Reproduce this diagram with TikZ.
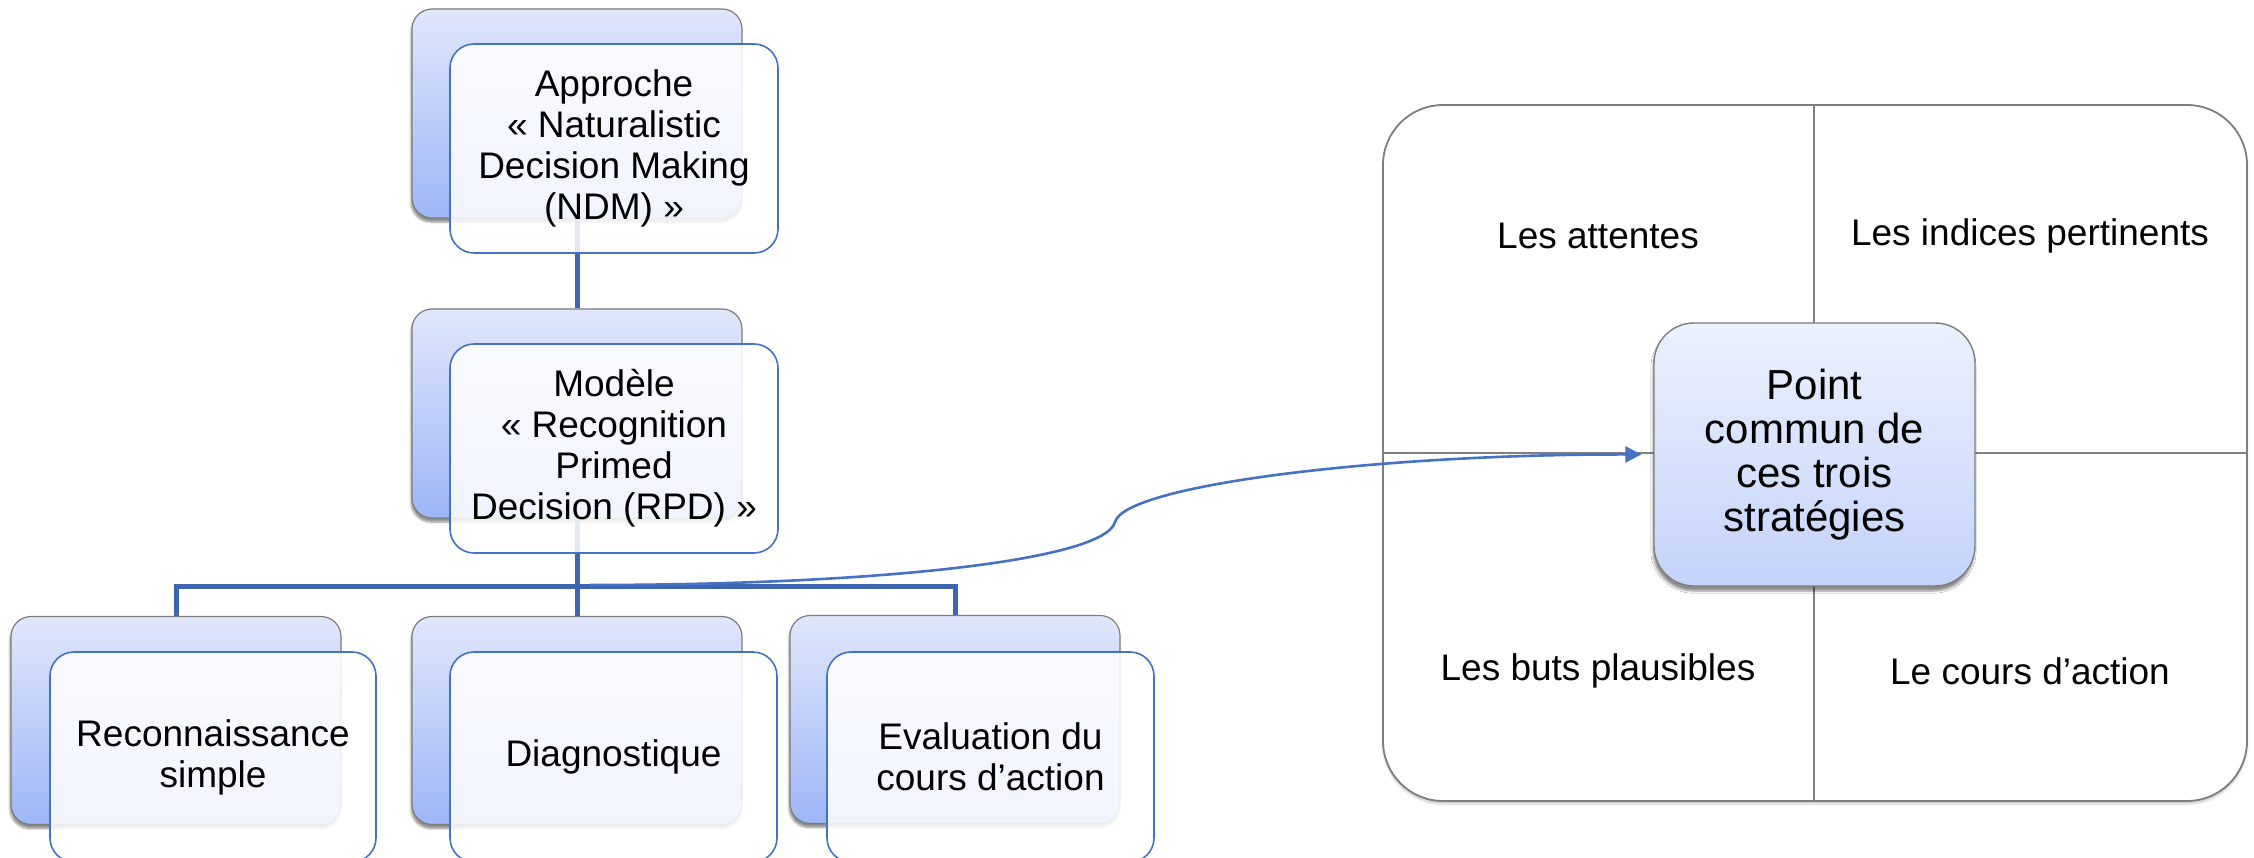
\documentclass[tikz,border=0pt]{standalone}
\usepackage{fontspec}
\setmainfont{Liberation Sans}
\usetikzlibrary{arrows.meta,shadows.blur}
\definecolor{conn}{RGB}{63,100,176}
\definecolor{frontbd}{RGB}{68,114,196}
\definecolor{backtop}{RGB}{224,231,252}
\definecolor{backbot}{RGB}{158,182,247}
\definecolor{grayb}{RGB}{125,125,125}
\definecolor{cptop}{RGB}{236,241,254}
\definecolor{cpbot}{RGB}{196,211,251}
\definecolor{divc}{RGB}{128,128,128}
\begin{document}
\begin{tikzpicture}[x=1pt,y=-1pt,
  backbox/.style={draw=grayb, line width=1.2pt, rounded corners=20pt,
    top color=backtop, bottom color=backbot, minimum width=330pt,
    minimum height=209pt, inner sep=0pt,
    blur shadow={shadow xshift=-1pt, shadow yshift=-4pt, shadow blur steps=6, shadow opacity=45}},
  frontbox/.style={draw=frontbd, line width=1.6pt, rounded corners=24pt,
    fill=white, fill opacity=0.86, text opacity=1, draw opacity=1,
    minimum width=328pt, minimum height=209pt, inner sep=0pt, align=center,
    font=\fontsize{37}{41}\selectfont},
  connline/.style={draw=conn, line width=5pt},
  panelbox/.style={draw=grayb, line width=1.8pt, fill=white, rounded corners=60pt,
    minimum width=864pt, minimum height=696pt, inner sep=0pt,
    blur shadow={shadow xshift=0pt, shadow yshift=-3pt, shadow blur steps=5, shadow opacity=20}},
  divline/.style={draw=divc, line width=1.6pt},
  centerbox/.style={draw=grayb, line width=1.4pt, rounded corners=40pt,
    top color=cptop, bottom color=cpbot, minimum width=321pt, minimum height=263pt,
    inner sep=0pt, align=center, font=\fontsize{42}{44}\selectfont,
    blur shadow={shadow xshift=-1pt, shadow yshift=-5pt, shadow blur steps=6, shadow opacity=45}},
  quadlabel/.style={inner sep=0pt, font=\fontsize{37}{41}\selectfont},
  arrowline/.style={draw=frontbd, line width=2.6pt, -{Triangle[length=16pt,width=16pt]}}
]
\useasboundingbox (0,0) rectangle (2254,858);

% back boxes
\node[backbox] (ndmB) at (577,113.5) {};
\node[backbox] (rpdB) at (577,413.5) {};
\node[backbox, minimum height=208pt] (recB) at (176,720.5) {};
\node[backbox, minimum height=208pt] (diaB) at (577,720.5) {};
\node[backbox, minimum height=208pt] (evaB) at (955,719.5) {};

% connectors
\coordinate (barL) at (176,586);
\coordinate (barM) at (577,586);
\coordinate (barR) at (955,586);
\draw[connline] (ndmB.south) -- (rpdB.north);
\draw[connline] (rpdB.south) -- (barM);
\draw[connline, line cap=rect] (barL) -- (barR);
\draw[connline] (barL) -- (recB.north);
\draw[connline] (barM) -- (diaB.north);
\draw[connline] (barR) -- (evaB.north);

% front boxes
\node[frontbox] (ndm) at (614,148.5) {Approche\\ « Naturalistic\\Decision Making\\(NDM) »};
\node[frontbox] (rpd) at (614,448.5) {Modèle\\ « Recognition\\Primed\\Decision (RPD) »};
\node[frontbox, minimum width=326pt, minimum height=210pt] (rec) at (213,757) {Reconnaissance\\simple};
\node[frontbox, minimum width=327pt, minimum height=210pt] (dia) at (613.5,757) {Diagnostique};
\node[frontbox, minimum width=327pt, minimum height=210pt] (eva) at (990.5,757) {Evaluation du\\cours d’action};

% right panel
\node[panelbox] (panel) at (1815,453) {};
\draw[divline] (1814,105) -- (1814,801);
\draw[divline] (panel.west) -- (panel.east);
\node[quadlabel] (q1) at (1598,236) {Les attentes};
\node[quadlabel] (q2) at (2030,236) {Les indices pertinents};
\node[quadlabel] (q3) at (1598,671) {Les buts plausibles};
\node[quadlabel] (q4) at (2030,671) {Le cours d’action};
\node[centerbox] (cp) at (1814.5,454.5) {Point\\commun de\\ces trois\\stratégies};

% curved arrow
\coordinate (arrS) at (590,585);
\draw[arrowline, shorten >=12pt] (arrS) .. controls (880,585) and (1105,560) .. (1115,522)
  .. controls (1125,485) and (1380,454) .. (cp.west);
\end{tikzpicture}
\end{document}
